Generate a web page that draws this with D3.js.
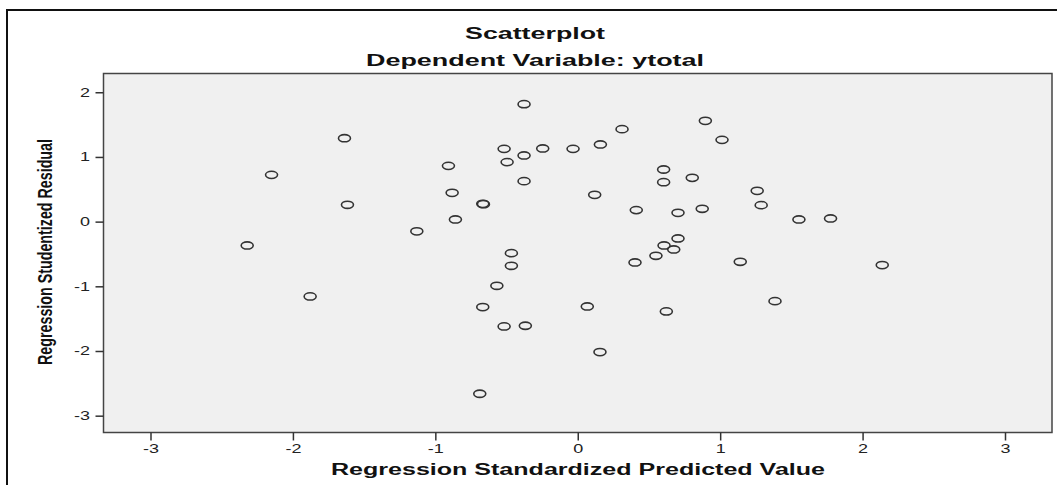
<!DOCTYPE html>
<html>
<head>
<meta charset="utf-8">
<script src="https://cdn.jsdelivr.net/npm/d3@7"></script>
<style>
  body { margin: 0; background: #fff; }
  svg { display: block; }
  .tick text { font-family: Arial, "Liberation Sans", sans-serif; font-size: 12px; fill: #222; }
  .tick line { stroke: #333; stroke-width: 1.5; }
</style>
</head>
<body>
<div id="chart"></div>
<script>
// predicted (x) and studentized residual (y) values
var predicted = [-1.638, -2.150, -1.617, -1.130, -2.321, -1.879,
  -0.377, 0.896, 0.311, 1.013, -0.517, -0.246, -0.033, 0.159, -0.377, -0.496,
  -0.908, 0.603, 0.603, 0.804, -0.377, -0.882, 0.119, -0.667, -0.662, 0.411,
  0.704, 0.874, -0.859, 0.704, 0.606, 0.674, 0.549, -0.466, -0.466, 0.402,
  -0.568, -0.667, 0.067, 0.622, -0.517, -0.368, 0.156, -0.688,
  1.260, 1.288, 1.553, 1.775, 1.141, 2.138, 1.385];
var residual = [1.29, 0.723, 0.26, -0.15, -0.368, -1.156,
  1.816, 1.558, 1.43, 1.264, 1.125, 1.131, 1.125, 1.193, 1.023, 0.92,
  0.862, 0.806, 0.61, 0.677, 0.626, 0.445, 0.414, 0.275, 0.27, 0.178,
  0.136, 0.198, 0.034, -0.26, -0.368, -0.43, -0.528, -0.487, -0.683, -0.631,
  -0.992, -1.321, -1.311, -1.388, -1.62, -1.61, -2.017, -2.661,
  0.476, 0.255, 0.034, 0.049, -0.621, -0.672, -1.229];
var xTicks = [-3, -2, -1, 0, 1, 2, 3];
var yTicks = [-3, -2, -1, 0, 1, 2];
var titleLines = ["Scatterplot", "Dependent Variable: ytotal"];
var xTitle = "Regression Standardized Predicted Value";
var yTitle = "Regression Studentized Residual";

var W = 1057, H = 485;
var plot = {left: 103.5, right: 1052, top: 73.5, bottom: 432.5};
var stretch = 1.5; // the source picture is widened sideways

var svg = d3.select("#chart").append("svg").attr("width", W).attr("height", H);

// outer frame (only top and left show in the crop)
svg.append("path")
  .attr("d", "M7," + H + "V10H" + W)
  .attr("fill", "none").attr("stroke", "#111").attr("stroke-width", 2);

var x = d3.scaleLinear().domain([-3.33, 3.33]).range([plot.left, plot.right]);
var y = d3.scaleLinear().domain([-3.26, 2.29]).range([plot.bottom, plot.top]);

svg.append("rect")
  .attr("x", plot.left).attr("y", plot.top)
  .attr("width", plot.right - plot.left).attr("height", plot.bottom - plot.top)
  .attr("fill", "#f0f0f0").attr("stroke", "#444").attr("stroke-width", 1.5);

var xAxis = svg.append("g").attr("transform", "translate(0," + plot.bottom + ")")
  .call(d3.axisBottom(x).tickValues(xTicks).tickFormat(function(d) { return d; })
    .tickSize(8).tickPadding(4));
var yAxis = svg.append("g").attr("transform", "translate(" + plot.left + ",0)")
  .call(d3.axisLeft(y).tickValues(yTicks).tickFormat(function(d) { return d; })
    .tickSize(8).tickPadding(3));
xAxis.select(".domain").remove();
yAxis.select(".domain").remove();
xAxis.selectAll(".tick text").attr("transform", "scale(" + stretch + ",1)");
yAxis.selectAll(".tick text").attr("x", -13.5 / stretch).attr("transform", "scale(" + stretch + ",1)");

// titles
var titleW = [140, 338];
svg.selectAll("text.title").data(titleLines).enter().append("text")
  .attr("class", "title")
  .attr("x", 535).attr("y", function(d, i) { return 38.5 + i * 27.5; })
  .attr("text-anchor", "middle")
  .attr("textLength", function(d, i) { return titleW[i]; })
  .attr("lengthAdjust", "spacingAndGlyphs")
  .style("font-family", "Arial, 'Liberation Sans', sans-serif")
  .style("font-weight", "bold").style("font-size", "17px").style("fill", "#111")
  .text(function(d) { return d; });

svg.append("text")
  .attr("x", 578).attr("y", 475)
  .attr("text-anchor", "middle")
  .attr("textLength", 494).attr("lengthAdjust", "spacingAndGlyphs")
  .style("font-family", "Arial, 'Liberation Sans', sans-serif")
  .style("font-weight", "bold").style("font-size", "16px").style("fill", "#111")
  .text(xTitle);

svg.append("text")
  .attr("transform", "translate(52,252) rotate(-90) scale(1," + stretch + ")")
  .attr("text-anchor", "middle")
  .attr("textLength", 226).attr("lengthAdjust", "spacingAndGlyphs")
  .style("font-family", "Arial, 'Liberation Sans', sans-serif")
  .style("font-weight", "bold").style("font-size", "14px").style("fill", "#111")
  .text(yTitle);

// points
svg.append("g").selectAll("ellipse").data(d3.range(predicted.length)).enter()
  .append("ellipse")
  .attr("cx", function(i) { return x(predicted[i]); })
  .attr("cy", function(i) { return y(residual[i]); })
  .attr("rx", 6).attr("ry", 3.6)
  .attr("fill", "none").attr("stroke", "#333").attr("stroke-width", 1.6);
</script>
</body>
</html>
